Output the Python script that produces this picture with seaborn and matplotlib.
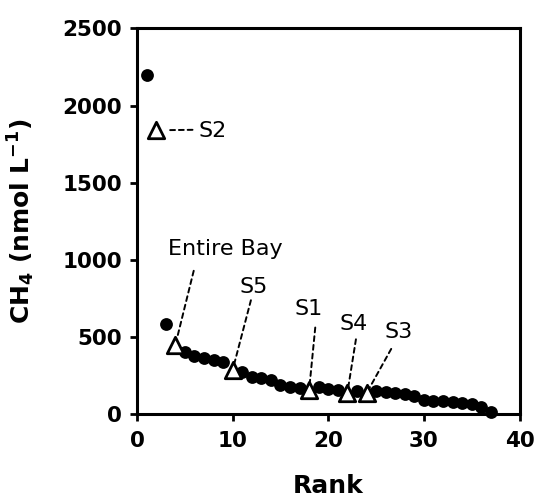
import matplotlib
matplotlib.use("Agg")
import matplotlib.pyplot as plt
import numpy as np
import pandas as pd
import seaborn as sns

sns.set_style("ticks")
plt.rcParams["font.family"] = ["DejaVu Sans"]
plt.rcParams["axes.unicode_minus"] = False
for key in ["text.color", "axes.labelcolor", "xtick.color", "ytick.color", "axes.edgecolor"]:
    plt.rcParams[key] = "black"

# ranked CH4 concentrations (dots = individual samples)
dot_rank = [1, 3, 5, 6, 7, 8, 9, 11, 12, 13, 14, 15, 16, 17, 19, 20, 21, 23,
            25, 26, 27, 28, 29, 30, 31, 32, 33, 34, 35, 36, 37]
dot_ch4 = [2200, 585, 402, 376, 363, 350, 337, 272, 240, 233, 220, 188, 175, 169,
           172, 165, 158, 150, 152, 145, 138, 130, 118, 90, 86, 82, 78, 74, 68, 48, 13]

# sites / whole bay (open triangles)
site_rank = [2, 4, 10, 18, 22, 24]
site_ch4 = [1840, 445, 285, 156, 138, 134]
site_label = ["S2", "Entire Bay", "S5", "S1", "S4", "S3"]

x_ticks = [0, 10, 20, 30, 40]
y_ticks = [0, 500, 1000, 1500, 2000, 2500]

# label placement (data coords) and leader-line tweaks
LABEL_LAYOUT = {
    "S2": dict(xy=(6.38, 1798), ha="left", relpos=(0, 0.55), sa=1.6, sb=8.6),
    "Entire Bay": dict(xy=(3.24, 1031), ha="left", relpos=(0.25, 0), sa=6.3, sb=6.6),
    "S5": dict(xy=(12.24, 785), ha="center", relpos=(0.42, 0), sa=0.0, sb=5.0),
    "S1": dict(xy=(17.99, 642), ha="center", relpos=(0.75, 0), sa=3.8, sb=6.3),
    "S4": dict(xy=(22.69, 545), ha="center", relpos=(0.6, 0), sa=1.5, sb=4.4),
    "S3": dict(xy=(27.4, 493), ha="center", relpos=(0.36, 0), sa=3.0, sb=3.8),
}


def main() -> None:
    dots = pd.DataFrame({"rank": dot_rank, "ch4": dot_ch4})
    sites = pd.DataFrame({"rank": site_rank, "ch4": site_ch4, "label": site_label})

    fig = plt.figure(figsize=(5.38, 4.99), dpi=100)
    ax = fig.add_axes([137 / 538, 85 / 499, 382.5 / 538, 385.5 / 499])

    sns.scatterplot(data=dots, x="rank", y="ch4", marker="o", s=85, color="black",
                    edgecolor="black", linewidth=0, ax=ax, zorder=3, clip_on=False)
    sns.scatterplot(data=sites, x="rank", y="ch4", marker="^", s=140, color="white",
                    edgecolor="black", linewidth=2, ax=ax, zorder=4, clip_on=False)

    for _, row in sites.iterrows():
        lay = LABEL_LAYOUT[row["label"]]
        ax.annotate(
            row["label"], xy=(row["rank"], row["ch4"]), xytext=lay["xy"],
            textcoords="data", ha=lay["ha"], va="baseline", fontsize=16,
            arrowprops=dict(arrowstyle="-", linestyle=(0, (2.5, 2)),
                            linewidth=1.4, color="black", relpos=lay["relpos"],
                            shrinkA=lay["sa"], shrinkB=lay["sb"]),
            zorder=5,
        )

    ax.set_xlim(0, 40)
    ax.set_ylim(0, 2500)
    ax.set_xticks(x_ticks)
    ax.set_yticks(y_ticks)
    for spine in ax.spines.values():
        spine.set_linewidth(2.2)
        spine.set_visible(True)
    ax.tick_params(axis="both", direction="out", length=5, width=2, labelsize=15.5,
                   top=False, right=False)
    ax.tick_params(axis="x", pad=7)
    ax.tick_params(axis="y", pad=6)
    for lab in ax.get_xticklabels() + ax.get_yticklabels():
        lab.set_fontweight("bold")

    ax.set_xlabel("Rank", fontsize=18, fontweight="bold")
    ax.set_ylabel(r"CH$_\mathbf{4}$ (nmol L$^{\mathbf{-1}}$)", fontsize=18, fontweight="bold")
    ax.xaxis.set_label_coords(0.5, -0.156)
    ax.yaxis.set_label_coords(-0.261, 0.5)

    fig.savefig("out.png", dpi=100)
    plt.close(fig)


if __name__ == "__main__":
    main()
